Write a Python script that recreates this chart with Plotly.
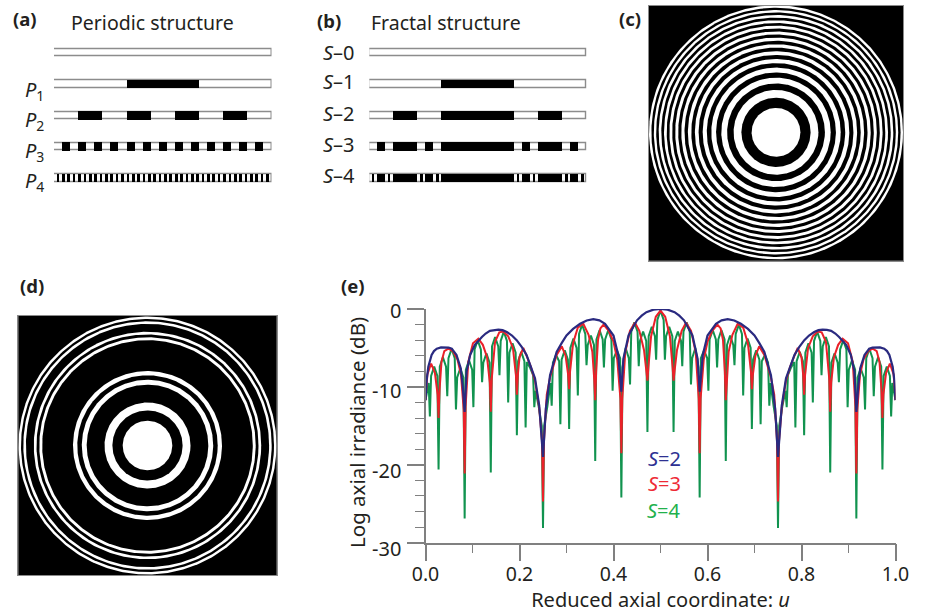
import numpy as np
import plotly.graph_objects as go

W, H = 926, 613
FONT = "Noto Sans"

# ---------- panel (e) curves ----------
S2_U = [0,.0025,.006,.013,.018,.024,.033,.042,.049,.056,.066,.075,.079,.0833,.0875,.095,.105,.12,.128,.137,.146,.155,.164,.173,.184,.194,.205,.215,.233,.242,.25,
        .256,.265,.279,.29,.3,.314,.329,.343,.357,.37,.382,.4,.41,.4167,.421,.432,.45,.46,.47,.485,.5,
        .515,.53,.54,.55,.568,.579,.5833,.59,.6,.618,.63,.643,.657,.671,.686,.7,.71,.721,.735,.744,.75,.758,.767,.785,.795,.806,.816,.827,.836,.845,.854,.863,.872,.88,.895,.905,.9125,
        .9167,.921,.925,.934,.944,.951,.958,.967,.976,.982,.987,.994,.9975,1]
S2_DB = [-11.7,-9.1,-7.4,-5.9,-5.4,-5.1,-4.93,-4.9,-4.95,-5.1,-5.9,-7.6,-9.8,-13.2,-8,-5.9,-4.6,-3.6,-3.15,-2.8,-2.68,-2.65,-2.72,-2.95,-3.4,-4,-4.9,-5.9,-8.9,-12.4,-19,
         -12.8,-8.5,-5.5,-4.35,-3.4,-2.55,-1.9,-1.48,-1.3,-1.45,-1.9,-3.4,-5.9,-10.6,-6.4,-3.4,-1.45,-.85,-.4,-.08,0,
         -.08,-.4,-.85,-1.45,-3.4,-6.4,-10.6,-5.9,-3.4,-1.9,-1.45,-1.3,-1.48,-1.9,-2.55,-3.4,-4.35,-5.5,-8.5,-12.8,-19,-12.4,-8.9,-5.9,-4.9,-4,-3.4,-2.95,-2.72,-2.65,-2.68,-2.8,-3.15,-3.6,-4.6,-5.9,-8,
         -13.2,-9.8,-7.6,-5.9,-5.1,-4.95,-4.9,-4.93,-5.1,-5.4,-5.9,-7.4,-9.1,-11.7]

S3_U = [0,.004,.012,.02,.0258,.0278,.0298,.034,.04,.0486,.058,.068,.0755,.0813,.0833,.0853,.091,.101,.1124,.122,.131,.1369,.1389,
        .1409,.148,.157,.1656,.176,.186,.1924,.1944,.1964,.2,.208,.215,.224,.233,.242,.248,.25,.252,.258,.265,.279,.29,.298,.3036,
        .3056,.3076,.314,.324,.3358,.347,.355,.359,.3611,.3631,.367,.372,.379,.39,.4,.408,.4147,.4167,.4187,.425,.435,.4457,.455,.465,
        .4702,.4722,.4742,.48,.49,.5,
        .51,.52,.5258,.5278,.5298,.535,.545,.5543,.565,.575,.5813,.5833,.5853,.592,.6,.61,.621,.628,.633,.6369,.6389,.641,.645,.653,
        .6642,.676,.686,.6924,.6944,.6964,.702,.71,.721,.735,.742,.748,.75,.752,.758,.767,.776,.785,.792,.8,.8036,.8056,.8076,.814,
        .824,.8344,.843,.852,.8591,.8611,.8631,.869,.878,.8876,.899,.909,.9147,.9167,.9187,.9245,.932,.942,.9514,.96,.966,.9702,.9722,
        .9742,.98,.988,.996,1]
S3_DB = [-11.7,-8.4,-7,-8.2,-11,-14,-10.5,-6.8,-5.4,-5.1,-5.4,-6.5,-8.4,-13,-21.1,-12.5,-6.8,-4.4,-3.8,-4.6,-6.2,-9.5,-13.2,
         -9,-4.2,-3,-2.9,-3.5,-5,-8.5,-11,-8.5,-6.2,-5,-6,-7.4,-9.2,-12.7,-17,-24.7,-17,-11,-8.8,-5.9,-4.8,-6,-8.5,
         -10.3,-8,-4.4,-2.4,-1.9,-3.3,-5.5,-9,-11.7,-8,-4,-2.5,-2,-2.8,-4.2,-6.5,-11.5,-18.5,-11.5,-5.6,-2.8,-1.75,-2.8,-5.3,
         -8,-9.2,-7.5,-3.5,-1,-.2,
         -1,-3.5,-7.5,-9.2,-8,-5.3,-2.8,-1.75,-2.8,-5.6,-11.5,-18.5,-11.5,-6.5,-4.2,-2.8,-2,-2.5,-4,-8,-11.7,-9,-5.5,-3.3,
         -1.9,-2.4,-4.4,-8,-10.3,-8.5,-6,-4.8,-5.9,-8.8,-11,-17,-24.7,-17,-12.7,-9.2,-7.4,-6,-5,-6.2,-8.5,-11,-8.5,-5,
         -3.5,-2.9,-3,-4.2,-9,-13.2,-9.5,-6.2,-4.6,-3.8,-4.4,-6.8,-12.5,-21.1,-13,-8.4,-6.5,-5.4,-5.1,-5.4,-6.8,-10.5,-14,
         -11,-8.2,-7,-8.4,-11.7]

S4_U = [0,.0067,.0093,.0119,.0185,.0252,.0278,.0304,.037,.0437,.0463,.0489,.0556,.0622,.0648,.0674,.0741,.0807,.0833,.0859,
        .0926,.0993,.1019,.1045,.1111,.1178,.1204,.123,.1296,.1363,.1389,.1415,.1481,.1548,.1574,.16,.1667,.1733,.1759,.1785,
        .1852,.1918,.1944,.197,.2037,.2104,.213,.2156,.2222,.2289,.2315,.2341,.2407,.2474,.25,.2526,.2593,.2659,.2685,.2711,
        .2778,.2844,.287,.2896,.2963,.303,.3056,.3082,.3148,.3215,.3241,.3267,.3333,.34,.3426,.3452,.3519,.3585,.3611,.3637,
        .3704,.377,.3796,.3822,.3889,.3955,.3981,.4007,.4074,.4141,.4167,.4193,.4259,.4326,.4352,.4378,.4444,.4511,.4537,.4563,
        .463,.4696,.4722,.4748,.4815,.4881,.4907,.4933,.5,
        .5067,.5093,.5119,.5185,.5252,.5278,.5304,.537,.5437,.5463,.5489,.5556,.5622,.5648,.5674,.5741,.5807,.5833,.5859,.5926,
        .5993,.6019,.6045,.6111,.6178,.6204,.623,.6296,.6363,.6389,.6415,.6481,.6548,.6574,.66,.6667,.6733,.6759,.6785,.6852,
        .6918,.6944,.697,.7037,.7104,.713,.7156,.7222,.7289,.7315,.7341,.7407,.7474,.75,.7526,.7593,.7659,.7685,.7711,.7778,
        .7844,.787,.7896,.7963,.803,.8056,.8082,.8148,.8215,.8241,.8267,.8333,.84,.8426,.8452,.8519,.8585,.8611,.8637,.8704,
        .877,.8796,.8822,.8889,.8955,.8981,.9007,.9074,.9141,.9167,.9193,.9259,.9326,.9352,.9378,.9444,.9511,.9537,.9563,.963,
        .9696,.9722,.9748,.9815,.9881,.9907,.9933,1]
S4_DB = [-11.7,-9.5,-13.8,-8.6,-7.4,-8.6,-20.6,-7.4,-6.2,-7.4,-11.2,-6.3,-5.1,-6.3,-12.9,-8.8,-7.6,-8.8,-26.9,-7.8,
         -6.6,-7.8,-12.6,-5.2,-4,-5.2,-9.4,-6.9,-5.7,-6.9,-21,-4.8,-3.6,-4.8,-8.5,-4.1,-2.9,-4.1,-12,-5.6,
         -4.4,-5.6,-16.2,-6.7,-5.5,-6.7,-15.2,-6.8,-7.5,-8.5,-12.6,-10.5,-12.5,-15,-28.1,-15,-12.5,-9.5,-12.4,-6.9,
         -5.9,-6.7,-14.8,-6.5,-5.3,-6.5,-15.4,-5,-3.8,-5,-11.1,-3.2,-2,-3.2,-7.2,-4.6,-3.4,-4.6,-19.5,-3.9,
         -2.7,-3.9,-7.5,-3.9,-2.7,-3.9,-10.5,-6.3,-5.3,-6.3,-24.2,-7.5,-5,-6.3,-9.7,-2.9,-1.7,-2.9,-7.35,-4.1,
         -2.9,-4.1,-15.8,-3.5,-2.3,-3.5,-6.5,-1.4,-.2,
         -1.4,-6.5,-3.5,-2.3,-3.5,-15.8,-4.1,-2.9,-4.1,-7.35,-2.9,-1.7,-2.9,-9.7,-6.3,-5,-7.5,-24.2,-6.3,-5.3,
         -6.3,-10.5,-3.9,-2.7,-3.9,-7.5,-3.9,-2.7,-3.9,-19.5,-4.6,-3.4,-4.6,-7.2,-3.2,-2,-3.2,-11.1,-5,-3.8,
         -5,-15.4,-6.5,-5.3,-6.5,-14.8,-6.7,-5.9,-6.9,-12.4,-9.5,-12.5,-15,-28.1,-15,-12.5,-10.5,-12.6,-8.5,-7.5,
         -6.8,-15.2,-6.7,-5.5,-6.7,-16.2,-5.6,-4.4,-5.6,-12,-4.1,-2.9,-4.1,-8.5,-4.8,-3.6,-4.8,-21,-6.9,-5.7,
         -6.9,-9.4,-5.2,-4,-5.2,-12.6,-7.8,-6.6,-7.8,-26.9,-8.8,-7.6,-8.8,-12.9,-6.3,-5.1,-6.3,-11.2,-7.4,-6.2,
         -7.4,-20.6,-8.6,-7.4,-8.6,-13.8,-9.5,-11.7]
assert len(S2_U) == len(S2_DB) and len(S3_U) == len(S3_DB) and len(S4_U) == len(S4_DB)

# ---------- panels (a), (b): black cells as (start, length) per strip ----------
P_DENOM = [1, 3, 9, 27, 81]
P_START = [[], [1], [1, 3, 5, 7],
           [1, 3, 5, 7, 9, 11, 13, 15, 17, 19, 21, 23, 25],
           [1, 3, 5, 7, 9, 11, 13, 15, 17, 19, 21, 23, 25, 27, 29, 31, 33, 35, 37, 39,
            41, 43, 45, 47, 49, 51, 53, 55, 57, 59, 61, 63, 65, 67, 69, 71, 73, 75, 77, 79]]
S_DENOM = [1, 3, 9, 27, 81]
S_START = [[], [1], [1, 3, 7], [1, 3, 7, 9, 19, 21, 25],
           [1, 3, 7, 9, 19, 21, 25, 27, 55, 57, 61, 63, 73, 75, 79]]
S_LEN = [[], [1], [1, 3, 1], [1, 3, 1, 9, 1, 3, 1],
         [1, 3, 1, 9, 1, 3, 1, 27, 1, 3, 1, 9, 1, 3, 1]]

# ---------- panels (c), (d): ring edge radii, largest first ----------
C_EDGES = [127, 124.6, 122.2, 119.8, 117.3, 114.7, 112, 109.3, 106.6, 103.8, 100.8, 97.8, 94.7,
           91.5, 88.1, 84.7, 81.1, 77.4, 73.3, 69.2, 64.7, 59.9, 54.7, 48.9, 42.4, 34.6, 24.4]
D_EDGES = [129, 126.5, 124.2, 121.6, 113.7, 111, 108.2, 105.3, 74.5, 70.2, 65.7, 60.8, 43, 35.1, 24.8]
FIELD_R = 220
THETA = np.linspace(0, 2 * np.pi, 361)

P_LABELS = ["<i>P</i><sub>1</sub>", "<i>P</i><sub>2</sub>", "<i>P</i><sub>3</sub>", "<i>P</i><sub>4</sub>"]
S_LABELS = ["<i>S</i>–0", "<i>S</i>–1", "<i>S</i>–2", "<i>S</i>–3", "<i>S</i>–4"]
X_TICKS = [0, .2, .4, .6, .8, 1]
X_TICK_TEXT = ["0.0", "0.2", "0.4", "0.6", "0.8", "1.0"]
Y_TICKS = [0, -10, -20, -30]
Y_TICK_TEXT = ["0", "-10", "-20", "-30"]


def dom_x(a, b):
    return [a / W, b / W]


def dom_y(top, bottom):
    return [1 - bottom / H, 1 - top / H]


fig = go.Figure()

# panel (e)
for u, db, col, lw in [(S4_U, S4_DB, "#11934f", 2), (S3_U, S3_DB, "#ea2129", 2), (S2_U, S2_DB, "#2a2a80", 2.2)]:
    fig.add_trace(go.Scatter(x=u, y=db, mode="lines", line=dict(color=col, width=lw),
                             cliponaxis=False, hoverinfo="skip", xaxis="x", yaxis="y"))


# strips
def strips(denoms, starts, lens, xa, ya):
    fig.add_trace(go.Bar(orientation="h", y=list(range(5)), x=[1] * 5, base=[0] * 5, width=0.235,
                         marker=dict(color="white", line=dict(color="#8c8c8c", width=1.5)),
                         hoverinfo="skip", xaxis=xa, yaxis=ya))
    ys, xs, bs = [], [], []
    for row, d in enumerate(denoms):
        for i, s in enumerate(starts[row]):
            n = lens[row][i] if lens else 1
            ys.append(row)
            xs.append(n / d)
            bs.append(s / d)
    fig.add_trace(go.Bar(orientation="h", y=ys, x=xs, base=bs, width=0.27,
                         marker=dict(color="black", line=dict(width=0)),
                         hoverinfo="skip", xaxis=xa, yaxis=ya))


strips(P_DENOM, P_START, None, "x2", "y2")
strips(S_DENOM, S_START, S_LEN, "x3", "y3")


# zone plates
def plate(edges, xa, ya):
    discs = [(FIELD_R, "black")]
    for i, r in enumerate(edges):
        discs.append((r, "white" if i % 2 == 0 else "black"))
    for r, col in discs:
        fig.add_trace(go.Scatter(x=r * np.cos(THETA), y=r * np.sin(THETA), mode="lines", fill="toself",
                                 fillcolor=col, line=dict(width=0, color=col),
                                 hoverinfo="skip", xaxis=xa, yaxis=ya))


plate(C_EDGES, "x4", "y4")
plate(D_EDGES, "x5", "y5")

hidden = dict(visible=False, fixedrange=True)
boxed = dict(showline=True, mirror=True, linecolor="#8a8a8a", linewidth=1, ticks="", showticklabels=False,
             showgrid=False, zeroline=False, fixedrange=True)
GRAY = "#808080"
TICKFONT = dict(family=FONT, size=19.5, color="#231f20")


def ann(x, y, text, size=18.5, color="#231f20", xanchor="center", angle=0):
    return dict(x=x / W, y=1 - y / H, xref="paper", yref="paper", text=text, showarrow=False,
                xanchor=xanchor, yanchor="middle", textangle=angle, font=dict(family=FONT, size=size, color=color))


anns = [
    ann(25, 19, "<b>(a)</b>", 18.5), ann(329, 20, "<b>(b)</b>", 18.5), ann(630, 19, "<b>(c)</b>", 18.5),
    ann(32, 285, "<b>(d)</b>", 18.5), ann(353, 285, "<b>(e)</b>", 18.5),
    ann(152, 23, "Periodic structure", 19.5), ann(446, 23, "Fractal structure", 19.5),
    ann(664, 458, "<i>S</i>=2", 20, "#2e3192"), ann(664, 483.5, "<i>S</i>=3", 20, "#ee2a35"),
    ann(664, 510, "<i>S</i>=4", 20, "#22b14c"),
    ann(357, 433, "Log axial irradiance (dB)", 20.5, angle=-90),
]
for lab, y in zip(P_LABELS, [90, 121, 151, 181]):
    anns.append(ann(34, y, lab, 20))
for lab, y in zip(S_LABELS, [52, 82, 113, 144, 175]):
    anns.append(ann(357, y, lab, 20, xanchor="right"))
for lab, y in zip(Y_TICK_TEXT, [310, 390, 470.5, 548]):
    anns.append(ann(403, y, lab, 20, xanchor="right"))

fig.update_layout(
    width=W, height=H, autosize=False, margin=dict(l=0, r=0, t=0, b=0, autoexpand=False),
    paper_bgcolor="white", plot_bgcolor="white", showlegend=False, barmode="overlay", bargap=0,
    font=dict(family=FONT, color="#231f20"),
    annotations=anns,
    xaxis=dict(domain=dom_x(425.5, 895.5), range=[0, 1], anchor="y", showgrid=False, zeroline=False,
               showline=True, linecolor=GRAY, linewidth=1.5, ticks="outside", ticklen=17, tickwidth=1.5,
               tickcolor=GRAY, tickvals=X_TICKS, ticktext=X_TICK_TEXT, ticklabelstandoff=-4,
               tickfont=TICKFONT, minor=dict(ticks="outside", ticklen=9, tickwidth=1.2, tickcolor=GRAY, dtick=.1),
               title=dict(text="Reduced axial coordinate: <i>u</i>", font=dict(family=FONT, size=20), standoff=6),
               automargin=False, fixedrange=True),
    yaxis=dict(domain=dom_y(309, 542.7), range=[-30, 0], anchor="x", showgrid=False, zeroline=False,
               showline=True, linecolor=GRAY, linewidth=1.5, ticks="outside", ticklen=17, tickwidth=1.5,
               tickcolor=GRAY, tickvals=Y_TICKS, showticklabels=False,
               minor=dict(ticks="outside", ticklen=9, tickwidth=1.2, tickcolor=GRAY, dtick=2),
               automargin=False, fixedrange=True),
    xaxis2=dict(domain=dom_x(54, 271.5), range=[0, 1], anchor="y2", **hidden),
    yaxis2=dict(domain=dom_y(37.35, 194), range=[4.5, -0.5], anchor="x2", **hidden),
    xaxis3=dict(domain=dom_x(369.3, 586.7), range=[0, 1], anchor="y3", **hidden),
    yaxis3=dict(domain=dom_y(37.35, 194), range=[4.5, -0.5], anchor="x3", **hidden),
    xaxis4=dict(domain=dom_x(648.7, 903.3), range=[-127.3, 127.3], anchor="y4", **boxed),
    yaxis4=dict(domain=dom_y(6, 260.7), range=[-128.4, 126.3], anchor="x4", **boxed),
    xaxis5=dict(domain=dom_x(18.3, 276.7), range=[-129.2, 129.2], anchor="y5", **boxed),
    yaxis5=dict(domain=dom_y(316, 575), range=[-129.5, 129.5], anchor="x5", **boxed),
)

fig.write_html("out.html", config=dict(displayModeBar=False),
               post_script="document.body.style.margin='0';document.body.style.overflow='hidden';")
